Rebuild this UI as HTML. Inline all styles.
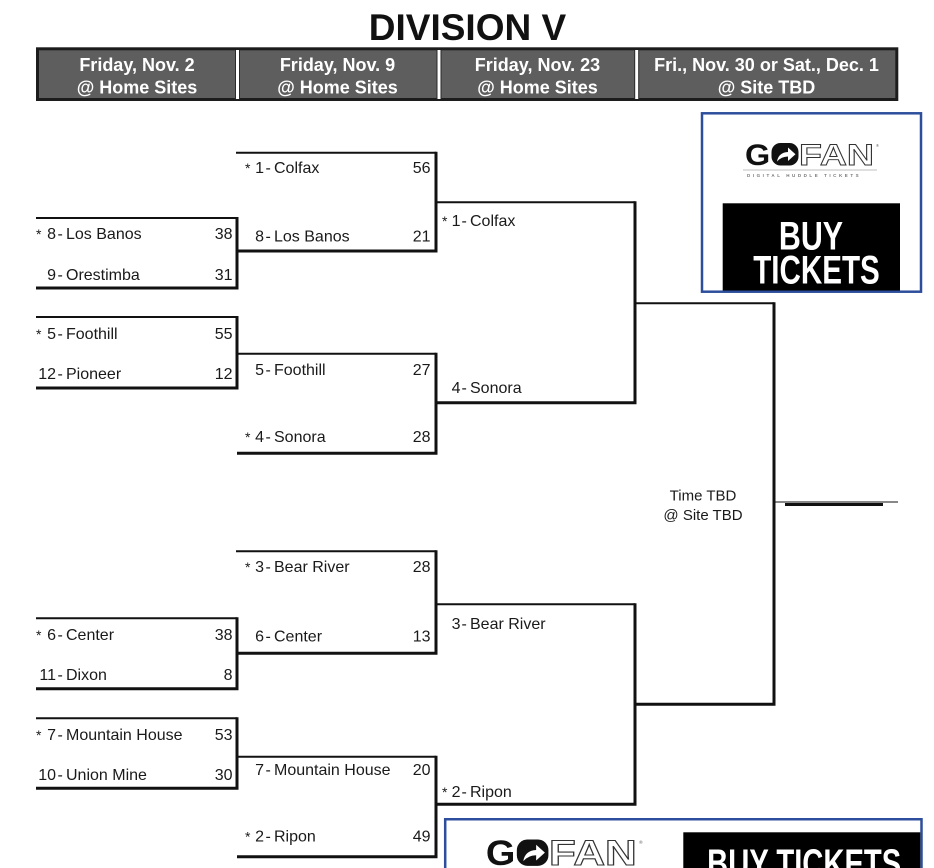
<!DOCTYPE html>
<html>
<head>
<meta charset="utf-8">
<style>
html,body{margin:0;padding:0;background:#fff;width:934px;height:868px;overflow:hidden;}
#wrap{width:934px;height:868px;overflow:hidden;position:relative;}
svg{display:block;}
</style>
</head>
<body>
<div id="wrap">
<svg width="934" height="868" viewBox="0 0 934 868" xmlns="http://www.w3.org/2000/svg" font-family="'Liberation Sans', Arial, sans-serif" overflow="hidden">
<defs>
  <clipPath id="pageclip"><rect x="0" y="0" width="934" height="868"/></clipPath>
</defs>
<rect width="934" height="868" fill="#fff"/>

<!-- Title -->
<text x="467.5" y="40" font-size="37" font-weight="bold" text-anchor="middle" fill="#111">DIVISION V</text>

<!-- Header bar -->
<rect x="37.5" y="48.8" width="859.3" height="50.7" fill="#5e5e5e" stroke="#1c1c1c" stroke-width="3"/>
<g>
  <rect x="235" y="50" width="5" height="49" fill="#2a2a2a"/>
  <rect x="236" y="50" width="3" height="49" fill="#fff"/>
  <rect x="436.5" y="50" width="5" height="49" fill="#2a2a2a"/>
  <rect x="437.5" y="50" width="3" height="49" fill="#fff"/>
  <rect x="634.2" y="50" width="5" height="49" fill="#2a2a2a"/>
  <rect x="635.2" y="50" width="3" height="49" fill="#fff"/>
</g>
<g font-size="18" font-weight="bold" fill="#fff" text-anchor="middle">
  <text x="137" y="71">Friday, Nov. 2</text>
  <text x="137" y="93.5">@ Home Sites</text>
  <text x="337.5" y="71">Friday, Nov. 9</text>
  <text x="337.5" y="93.5">@ Home Sites</text>
  <text x="537.5" y="71">Friday, Nov. 23</text>
  <text x="537.5" y="93.5">@ Home Sites</text>
  <text x="766.5" y="71">Fri., Nov. 30 or Sat., Dec. 1</text>
  <text x="766.5" y="93.5">@ Site TBD</text>
</g>

<!-- Bracket lines -->
<g stroke="#111" fill="none">
  <path d="M36 218 H237" stroke-width="2"/>
  <path d="M36 288 H238.5 M237 217 V289.5" stroke-width="3"/>
  <path d="M36 317 H237" stroke-width="2"/>
  <path d="M36 388 H238.5 M237 316 V389.5" stroke-width="3"/>
  <path d="M36 618.3 H237" stroke-width="2"/>
  <path d="M36 688.7 H238.5 M237 617.3 V690.2" stroke-width="3"/>
  <path d="M36 718.3 H237" stroke-width="2"/>
  <path d="M36 788.3 H238.5 M237 717.3 V789.8" stroke-width="3"/>

  <path d="M236 152.7 H436" stroke-width="2"/>
  <path d="M237 251 H437.5 M436 151.7 V252.5" stroke-width="3"/>
  <path d="M236 353.7 H436" stroke-width="2"/>
  <path d="M237 453.3 H437.5 M436 352.7 V454.8" stroke-width="3"/>
  <path d="M236 551.2 H436" stroke-width="2"/>
  <path d="M237 653.3 H437.5 M436 550.2 V654.8" stroke-width="3"/>
  <path d="M236 756.8 H436" stroke-width="2"/>
  <path d="M237 856.7 H437.5 M436 755.8 V858.2" stroke-width="3"/>

  <path d="M436 202.2 H635" stroke-width="2"/>
  <path d="M436 402.7 H636.5 M635 201.2 V404.2" stroke-width="3"/>
  <path d="M436 604.3 H635" stroke-width="2"/>
  <path d="M436 804.3 H636.5 M635 603.3 V805.8" stroke-width="3"/>

  <path d="M635 303.3 H774" stroke-width="2"/>
  <path d="M635 704.3 H775.5 M774 302.3 V705.8" stroke-width="3"/>

  <path d="M774 502 H898" stroke-width="1"/>
  <path d="M785 504.5 H883" stroke-width="3"/>
</g>

<!-- Team texts -->
<g font-size="16" fill="#1a1a1a">
  <text x="36" y="239" font-size="14">*</text>
  <text x="56" y="239" text-anchor="end">8</text><text x="57.5" y="239">-</text><text x="66" y="239">Los Banos</text>
  <text x="232.5" y="239" text-anchor="end">38</text>
  <text x="56" y="280" text-anchor="end">9</text><text x="57.5" y="280">-</text><text x="66" y="280">Orestimba</text>
  <text x="232.5" y="280" text-anchor="end">31</text>

  <text x="36" y="339" font-size="14">*</text>
  <text x="56" y="339" text-anchor="end">5</text><text x="57.5" y="339">-</text><text x="66" y="339">Foothill</text>
  <text x="232.5" y="339" text-anchor="end">55</text>
  <text x="56" y="379" text-anchor="end">12</text><text x="57.5" y="379">-</text><text x="66" y="379">Pioneer</text>
  <text x="232.5" y="379" text-anchor="end">12</text>

  <text x="36" y="640" font-size="14">*</text>
  <text x="56" y="640" text-anchor="end">6</text><text x="57.5" y="640">-</text><text x="66" y="640">Center</text>
  <text x="232.5" y="640" text-anchor="end">38</text>
  <text x="56" y="680" text-anchor="end">11</text><text x="57.5" y="680">-</text><text x="66" y="680">Dixon</text>
  <text x="232.5" y="680" text-anchor="end">8</text>

  <text x="36" y="740" font-size="14">*</text>
  <text x="56" y="740" text-anchor="end">7</text><text x="57.5" y="740">-</text><text x="66" y="740">Mountain House</text>
  <text x="232.5" y="740" text-anchor="end">53</text>
  <text x="56" y="780" text-anchor="end">10</text><text x="57.5" y="780">-</text><text x="66" y="780">Union Mine</text>
  <text x="232.5" y="780" text-anchor="end">30</text>

  <text x="245" y="173" font-size="14">*</text>
  <text x="264" y="173" text-anchor="end">1</text><text x="265.5" y="173">-</text><text x="274" y="173">Colfax</text>
  <text x="430.5" y="173" text-anchor="end">56</text>
  <text x="264" y="241.5" text-anchor="end">8</text><text x="265.5" y="241.5">-</text><text x="274" y="241.5">Los Banos</text>
  <text x="430.5" y="241.5" text-anchor="end">21</text>

  <text x="264" y="375" text-anchor="end">5</text><text x="265.5" y="375">-</text><text x="274" y="375">Foothill</text>
  <text x="430.5" y="375" text-anchor="end">27</text>
  <text x="245" y="442" font-size="14">*</text>
  <text x="264" y="442" text-anchor="end">4</text><text x="265.5" y="442">-</text><text x="274" y="442">Sonora</text>
  <text x="430.5" y="442" text-anchor="end">28</text>

  <text x="245" y="572" font-size="14">*</text>
  <text x="264" y="572" text-anchor="end">3</text><text x="265.5" y="572">-</text><text x="274" y="572">Bear River</text>
  <text x="430.5" y="572" text-anchor="end">28</text>
  <text x="264" y="641.5" text-anchor="end">6</text><text x="265.5" y="641.5">-</text><text x="274" y="641.5">Center</text>
  <text x="430.5" y="641.5" text-anchor="end">13</text>

  <text x="264" y="775" text-anchor="end">7</text><text x="265.5" y="775">-</text><text x="274" y="775">Mountain House</text>
  <text x="430.5" y="775" text-anchor="end">20</text>
  <text x="245" y="841.5" font-size="14">*</text>
  <text x="264" y="841.5" text-anchor="end">2</text><text x="265.5" y="841.5">-</text><text x="274" y="841.5">Ripon</text>
  <text x="430.5" y="841.5" text-anchor="end">49</text>

  <text x="442" y="226" font-size="14">*</text>
  <text x="460.5" y="226" text-anchor="end">1</text><text x="461.5" y="226">-</text><text x="470" y="226">Colfax</text>
  <text x="460.5" y="393" text-anchor="end">4</text><text x="461.5" y="393">-</text><text x="470" y="393">Sonora</text>
  <text x="460.5" y="629" text-anchor="end">3</text><text x="461.5" y="629">-</text><text x="470" y="629">Bear River</text>
  <text x="442" y="797" font-size="14">*</text>
  <text x="460.5" y="797" text-anchor="end">2</text><text x="461.5" y="797">-</text><text x="470" y="797">Ripon</text>

  <text x="703" y="500.5" font-size="15" text-anchor="middle">Time TBD</text>
  <text x="703" y="520" font-size="15" text-anchor="middle">@ Site TBD</text>
</g>

<!-- Top ad -->
<rect x="702" y="113.3" width="219" height="178.4" fill="#fff" stroke="#2d4e9c" stroke-width="2.5"/>
<g>
  <text transform="translate(745,165) scale(1.08,1)" font-size="30" font-weight="bold" fill="#111">G</text>
  <rect x="771.5" y="143" width="27" height="22.5" rx="9" fill="#111"/>
  <path d="M777 161.5 Q778.5 152.5 788 152 L788 147.5 L795.5 154.2 L788 161 L788 156.5 Q781.5 156.5 777 161.5 Z" fill="#fff"/>
  <text transform="translate(799,165) scale(1.25,1)" font-size="30" font-weight="bold" fill="#fff" stroke="#333" stroke-width="0.9">FAN</text>
  <text x="876" y="147" font-size="4" fill="#555">®</text>
  <line x1="743" y1="170" x2="877" y2="170" stroke="#aaa" stroke-width="0.8"/>
  <text x="747" y="177" font-size="4.5" font-weight="bold" letter-spacing="2.55" fill="#777">DIGITAL HUDDLE TICKETS</text>
</g>
<rect x="722.7" y="203.3" width="177.3" height="87.2" fill="#000"/>
<g font-size="40" font-weight="bold" fill="#fff" text-anchor="middle">
  <text transform="translate(811,249.3) scale(0.76,1)">BUY</text>
  <text transform="translate(816.5,283.3) scale(0.74,1)">TICKETS</text>
</g>

<!-- Bottom ad (clipped to page) -->
<g clip-path="url(#pageclip)">
  <path d="M445.2 868 V819.3 H921.5 V868" fill="#fff" stroke="#2d4e9c" stroke-width="2.5"/>
  <g transform="translate(487,839.5) scale(1.17) translate(-746,-143)">
    <text transform="translate(745,165) scale(1.08,1)" font-size="30" font-weight="bold" fill="#111">G</text>
    <rect x="771.5" y="143" width="27" height="22.5" rx="9" fill="#111"/>
    <path d="M777 161.5 Q778.5 152.5 788 152 L788 147.5 L795.5 154.2 L788 161 L788 156.5 Q781.5 156.5 777 161.5 Z" fill="#fff"/>
    <text transform="translate(799,165) scale(1.25,1)" font-size="30" font-weight="bold" fill="#fff" stroke="#333" stroke-width="0.9">FAN</text>
    <text x="876" y="147" font-size="4" fill="#555">®</text>
  </g>
  <rect x="683.3" y="832.3" width="237" height="35.7" fill="#000"/>
  <text transform="translate(804.2,877) scale(0.73,1)" font-size="40" font-weight="bold" fill="#fff" text-anchor="middle">BUY TICKETS</text>
</g>
</svg>
</div>
</body>
</html>
